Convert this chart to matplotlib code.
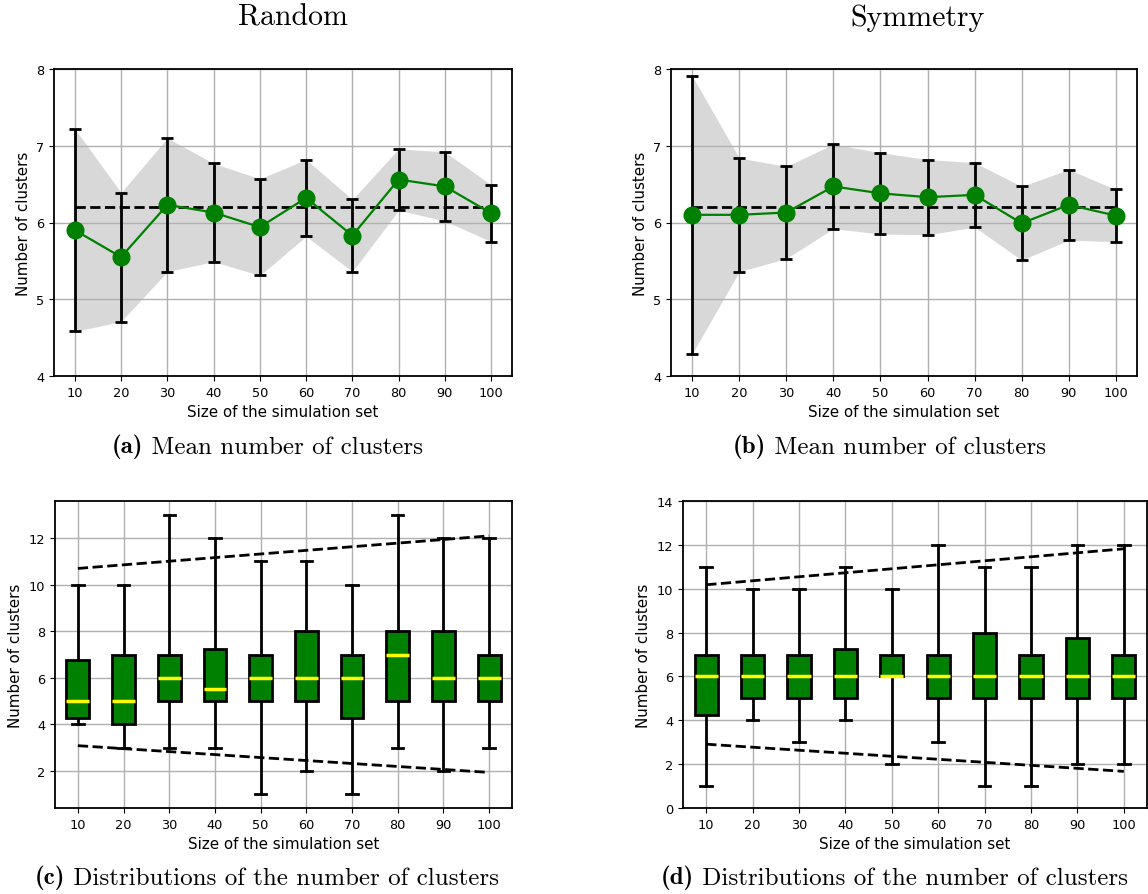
import numpy as np
import matplotlib
matplotlib.use("Agg")
from matplotlib import pyplot as plt
from matplotlib.text import Annotation

# simulation set sizes
sizes = [10, 20, 30, 40, 50, 60, 70, 80, 90, 100]
ref_mean = 6.2

# mean number of clusters +- std
rand_mean = [5.90, 5.55, 6.23, 6.13, 5.94, 6.32, 5.83, 6.56, 6.47, 6.12]
rand_std = [1.32, 0.84, 0.87, 0.64, 0.63, 0.50, 0.47, 0.40, 0.45, 0.37]
sym_mean = [6.10, 6.10, 6.13, 6.47, 6.38, 6.33, 6.36, 5.99, 6.23, 6.09]
sym_std = [1.81, 0.74, 0.60, 0.55, 0.53, 0.49, 0.42, 0.48, 0.46, 0.34]

# box plot summaries (whisker low, q1, median, q3, whisker high)
rand_lo = [4, 3, 3, 3, 1, 2, 1, 3, 2, 3]
rand_q1 = [4.25, 4, 5, 5, 5, 5, 4.25, 5, 5, 5]
rand_med = [5, 5, 6, 5.5, 6, 6, 6, 7, 6, 6]
rand_q3 = [6.75, 7, 7, 7.25, 7, 8, 7, 8, 8, 7]
rand_hi = [10, 10, 13, 12, 11, 11, 10, 13, 12, 12]

sym_lo = [1, 4, 3, 4, 2, 3, 1, 1, 2, 2]
sym_q1 = [4.25, 5, 5, 5, 6, 5, 5, 5, 5, 5]
sym_med = [6, 6, 6, 6, 6, 6, 6, 6, 6, 6]
sym_q3 = [7, 7, 7, 7.25, 7, 7, 8, 7, 7.75, 7]
sym_hi = [11, 10, 10, 11, 10, 12, 11, 11, 12, 12]

# dashed bound lines (at first and last size)
bound_x = [10, 100]
rand_upper = [10.7, 12.1]
rand_lower = [3.08, 1.93]
sym_upper = [10.18, 11.82]
sym_lower = [2.91, 1.67]

W, H = 1148, 895
fig = plt.figure(figsize=(W / 100, H / 100), dpi=100)


def px_axes(l, t, r, b):
    return fig.add_axes([l / W, 1 - b / H, (r - l) / W, (b - t) / H])


def mean_panel(ax, mean, std):
    mean = np.array(mean)
    std = np.array(std)
    ax.grid(True, color='#b0b0b0', lw=1, zorder=0)
    ax.fill_between(sizes, mean - std, mean + std, color='gray', alpha=0.3, lw=0, zorder=1)
    ax.errorbar(sizes, mean, yerr=std, fmt='none', ecolor='black', elinewidth=2,
                capsize=4, capthick=2, zorder=2)
    ax.plot([sizes[0], sizes[-1]], [ref_mean, ref_mean], 'k--', lw=2, zorder=3)
    ax.plot(sizes, mean, 'g-o', lw=1.6, ms=12, zorder=4)
    ax.set_ylim(4, 8)
    ax.set_xlim(5.5, 104.5)
    ax.set_yticks([4, 5, 6, 7, 8])
    ax.set_xticks(sizes)


def box_panel(ax, lo, q1, med, q3, hi, upper, lower):
    stats = []
    for i in range(len(sizes)):
        stats.append(dict(whislo=lo[i], q1=q1[i], med=med[i], q3=q3[i], whishi=hi[i], fliers=[]))
    ax.grid(True, color='#b0b0b0', lw=1, zorder=0)
    ax.set_axisbelow(True)
    ax.bxp(stats, positions=sizes, widths=5, patch_artist=True, manage_ticks=False,
           boxprops=dict(facecolor='green', edgecolor='black', lw=2),
           medianprops=dict(color='yellow', lw=2.5),
           whiskerprops=dict(color='black', lw=2),
           capprops=dict(color='black', lw=2))
    ax.plot(bound_x, upper, 'k--', lw=2, zorder=5)
    ax.plot(bound_x, lower, 'k--', lw=2, zorder=5)
    ax.set_xlim(5, 105)
    ax.set_xticks(sizes)
    ax.set_xticklabels([str(s) for s in sizes])


axes = [px_axes(54, 70, 512, 377), px_axes(671, 70, 1137, 377),
        px_axes(55, 502, 512, 809), px_axes(683, 502, 1147, 809)]

mean_panel(axes[0], rand_mean, rand_std)
mean_panel(axes[1], sym_mean, sym_std)
box_panel(axes[2], rand_lo, rand_q1, rand_med, rand_q3, rand_hi, rand_upper, rand_lower)
box_panel(axes[3], sym_lo, sym_q1, sym_med, sym_q3, sym_hi, sym_upper, sym_lower)
axes[2].set_ylim(0.4, 13.6)
axes[2].set_yticks([2, 4, 6, 8, 10, 12])
axes[3].set_ylim(0, 14)
axes[3].set_yticks([0, 2, 4, 6, 8, 10, 12, 14])

for ax in axes:
    ax.set_xlabel('Size of the simulation set', fontsize=10.9)
    ax.set_ylabel('Number of clusters', fontsize=10.9)
    ax.tick_params(labelsize=9.3)
    for sp in ax.spines.values():
        sp.set_linewidth(1.3)

fig.text(293 / W, 1 - 18 / H, 'Random', family='cmr10', fontsize=21.5, ha='center', va='center')
fig.text(918 / W, 1 - 18 / H, 'Symmetry', family='cmr10', fontsize=21.5, ha='center', va='center')


def caption(x, y, tag, text):
    t = fig.text(x / W, 1 - y / H, tag, family='cmb10', fontsize=18, ha='left', va='center')
    a = Annotation(' ' + text, xy=(1, 0), xycoords=t, ha='left', va='bottom',
                   family='cmr10', fontsize=18)
    fig.add_artist(a)


caption(112, 447, '(a)', 'Mean number of clusters')
caption(733, 447, '(b)', 'Mean number of clusters')
caption(35, 878, '(c)', 'Distributions of the number of clusters')
caption(661, 878, '(d)', 'Distributions of the number of clusters')

fig.savefig('out.png', dpi=100)
